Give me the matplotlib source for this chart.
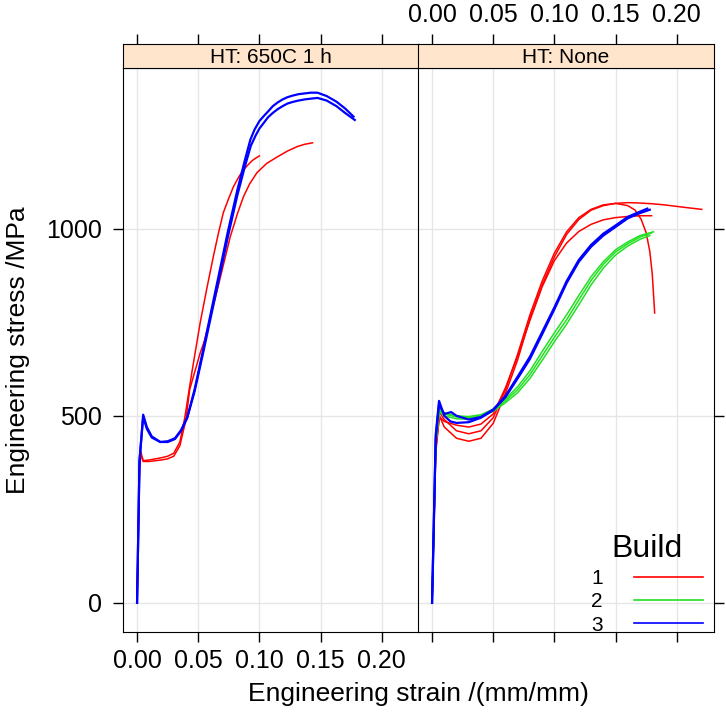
import numpy as np
import matplotlib
matplotlib.use("Agg")
import matplotlib.pyplot as plt
from matplotlib.lines import Line2D

plt.rcParams['font.family'] = ['Liberation Sans', 'DejaVu Sans']

panels = ["HT: 650C 1 h", "HT: None"]
builds = ["1", "2", "3"]
build_colors = {"1": "#FF0000", "2": "#22E022", "3": "#0000FF"}

x_ticks = [0.00, 0.05, 0.10, 0.15, 0.20]
y_ticks = [0, 500, 1000]

# --- HT: 650C 1 h ---
a_b1_x = [0, 0.002, 0.005, 0.008, 0.012, 0.019, 0.025, 0.031, 0.036, 0.041, 0.047, 0.054, 0.062, 0.068,
          0.074, 0.082, 0.088, 0.0926, 0.096, 0.100, 0.104, 0.1066, 0.111, 0.115, 0.119, 0.123, 0.127,
          0.132, 0.137, 0.142, 0.1475, 0.155, 0.163, 0.170, 0.177]
a_b1_y = [0, 380, 503, 470, 445, 430, 430, 438, 460, 495, 570, 676, 802, 895,
          989, 1104, 1182, 1238, 1265, 1288, 1303, 1312, 1328, 1338, 1346, 1352, 1356,
          1360, 1362, 1364, 1364, 1355, 1340, 1322, 1300]
a_b2_x = [0, 0.002, 0.005, 0.008, 0.012, 0.019, 0.025, 0.031, 0.036, 0.041, 0.047, 0.054, 0.062, 0.068,
          0.074, 0.082, 0.088, 0.093, 0.097, 0.100, 0.104, 0.107, 0.111, 0.115, 0.119, 0.123, 0.127,
          0.132, 0.137, 0.142, 0.1475, 0.155, 0.163, 0.170, 0.178]
a_b2_y = [0, 380, 498, 465, 442, 430, 432, 440, 462, 495, 565, 668, 790, 882,
          975, 1090, 1165, 1222, 1250, 1268, 1285, 1298, 1310, 1320, 1328, 1335, 1339,
          1343, 1346, 1348, 1350, 1343, 1328, 1310, 1291]
a_r1_x = [0, 0.002, 0.003, 0.005, 0.010, 0.015, 0.020, 0.025, 0.030, 0.035, 0.039, 0.045, 0.0516, 0.057,
          0.0623, 0.0665, 0.0705, 0.075, 0.0787, 0.083, 0.087, 0.091, 0.094, 0.097, 0.100]
a_r1_y = [0, 360, 405, 380, 382, 385, 388, 392, 400, 430, 495, 620, 749, 840,
          925, 988, 1043, 1082, 1112, 1138, 1158, 1172, 1182, 1189, 1195]
a_r2_x = [0, 0.002, 0.003, 0.005, 0.010, 0.015, 0.020, 0.025, 0.030, 0.035, 0.040, 0.043, 0.0516, 0.055,
          0.0656, 0.0762, 0.082, 0.087, 0.092, 0.098, 0.106, 0.115, 0.123, 0.131, 0.137, 0.1435]
a_r2_y = [0, 370, 395, 378, 378, 380, 382, 385, 392, 420, 490, 570, 668, 700,
          837, 979, 1040, 1086, 1120, 1150, 1175, 1193, 1208, 1220, 1226, 1230]

# --- HT: None ---
n_r1_x = [0, 0.003, 0.006, 0.010, 0.020, 0.030, 0.040, 0.050, 0.060, 0.070, 0.080, 0.090, 0.100, 0.110,
          0.120, 0.130, 0.140, 0.150, 0.160, 0.170, 0.180, 0.190, 0.200, 0.210, 0.2205]
n_r1_y = [0, 400, 500, 470, 440, 432, 440, 480, 560, 650, 760, 850, 925, 985,
          1025, 1050, 1062, 1068, 1070, 1069, 1067, 1064, 1060, 1056, 1052]
n_r2_x = [0, 0.003, 0.006, 0.010, 0.020, 0.030, 0.040, 0.050, 0.060, 0.070, 0.080, 0.090, 0.100, 0.110,
          0.120, 0.130, 0.140, 0.150, 0.160, 0.166, 0.171, 0.175, 0.178, 0.180, 0.182]
n_r2_y = [0, 420, 510, 490, 460, 452, 460, 495, 570, 665, 770, 860, 935, 992,
          1030, 1052, 1064, 1068, 1062, 1050, 1025, 990, 940, 880, 775]
n_r3_x = [0, 0.003, 0.006, 0.010, 0.020, 0.030, 0.040, 0.050, 0.060, 0.070, 0.080, 0.090, 0.100, 0.110,
          0.120, 0.130, 0.140, 0.150, 0.160, 0.170, 0.1795]
n_r3_y = [0, 410, 497, 485, 475, 470, 478, 505, 575, 660, 755, 845, 915, 962,
          993, 1012, 1024, 1030, 1033, 1035, 1035]
n_g1_x = [0, 0.003, 0.006, 0.010, 0.020, 0.030, 0.040, 0.050, 0.060, 0.070, 0.080, 0.090, 0.100, 0.110,
          0.120, 0.130, 0.140, 0.150, 0.160, 0.170, 0.1795]
n_g1_y = [0, 430, 515, 505, 497, 495, 500, 515, 540, 570, 610, 660, 710, 757,
          810, 862, 905, 938, 960, 978, 989]
n_g2_x = [0, 0.003, 0.006, 0.010, 0.020, 0.030, 0.040, 0.050, 0.060, 0.070, 0.080, 0.090, 0.100, 0.110,
          0.120, 0.130, 0.140, 0.150, 0.160, 0.170, 0.178]
n_g2_y = [0, 425, 510, 500, 492, 491, 497, 512, 535, 562, 600, 648, 698, 745,
          797, 850, 895, 930, 954, 972, 982]
n_g3_x = [0, 0.003, 0.006, 0.010, 0.020, 0.030, 0.040, 0.050, 0.060, 0.070, 0.080, 0.090, 0.100, 0.110,
          0.120, 0.130, 0.140, 0.150, 0.160, 0.170, 0.181]
n_g3_y = [0, 435, 518, 508, 500, 498, 503, 518, 545, 578, 620, 672, 722, 770,
          822, 872, 912, 944, 965, 982, 992]
n_b1_x = [0, 0.003, 0.0057, 0.010, 0.015, 0.020, 0.030, 0.040, 0.050, 0.060, 0.070, 0.080, 0.090, 0.100,
          0.110, 0.120, 0.130, 0.140, 0.150, 0.160, 0.170, 0.178]
n_b1_y = [0, 450, 540, 500, 485, 481, 483, 495, 515, 550, 600, 652, 718, 785,
          855, 912, 952, 982, 1005, 1028, 1042, 1051]
n_b2_x = [0, 0.003, 0.0057, 0.010, 0.0156, 0.020, 0.030, 0.040, 0.050, 0.060, 0.070, 0.080, 0.090, 0.100,
          0.110, 0.120, 0.130, 0.140, 0.150, 0.160, 0.170, 0.176]
n_b2_y = [0, 440, 530, 505, 510, 500, 490, 497, 517, 553, 605, 658, 724, 790,
          860, 917, 957, 987, 1009, 1032, 1046, 1054]

curves = {
    panels[0]: [("1", a_r1_x, a_r1_y), ("1", a_r2_x, a_r2_y),
                ("3", a_b1_x, a_b1_y), ("3", a_b2_x, a_b2_y)],
    panels[1]: [("1", n_r1_x, n_r1_y), ("1", n_r2_x, n_r2_y), ("1", n_r3_x, n_r3_y),
                ("2", n_g1_x, n_g1_y), ("2", n_g2_x, n_g2_y), ("2", n_g3_x, n_g3_y),
                ("3", n_b1_x, n_b1_y), ("3", n_b2_x, n_b2_y)],
}

W, H = 726, 718
fig = plt.figure(figsize=(W / 100, H / 100), dpi=100)

def fx(px):
    return px / W

def fy(py):
    return 1 - py / H

xlim = (-0.0115, 0.2305)
ylim = (-78, 1430)
lefts = [123, 418]
pw = 296
top, bot, strip_top = 68, 632, 44

for i, name in enumerate(panels):
    ax = fig.add_axes([fx(lefts[i]), fy(bot), pw / W, (bot - top) / H])
    st = fig.add_axes([fx(lefts[i]), fy(top), pw / W, (top - strip_top) / H], sharex=ax)

    for xv in x_ticks:
        ax.axvline(xv, color="#E6E6E6", lw=1, zorder=0)
    for yv in y_ticks:
        ax.axhline(yv, color="#E6E6E6", lw=1, zorder=0)

    for b, xs, ys in curves[name]:
        lw = 1.6 if b == "3" else 1.1
        ax.plot(xs, ys, color=build_colors[b], lw=lw, zorder=2)

    ax.set_xlim(*xlim)
    ax.set_ylim(*ylim)
    ax.set_xticks(x_ticks)
    ax.set_yticks(y_ticks)
    ax.tick_params(direction="out", length=7, width=1, labelsize=18, pad=5)
    ax.tick_params(axis="y", pad=8)

    st.set_facecolor("#FFE5CC")
    st.set_yticks([])
    st.text(0.5, 0.45, name, transform=st.transAxes, ha="center", va="center", fontsize=15)
    st.tick_params(axis="x", direction="out", length=7, width=1, labelsize=18, pad=5,
                   top=True, bottom=False, labelbottom=False)

    if i == 0:
        ax.tick_params(axis="x", labelbottom=True)
        st.tick_params(axis="x", labeltop=False)
        ax.yaxis.set_ticks_position("left")
        ax.set_xticklabels([f"{v:.2f}" for v in x_ticks])
    else:
        ax.tick_params(axis="x", labelbottom=False)
        st.tick_params(axis="x", labeltop=True)
        ax.yaxis.set_ticks_position("right")
        ax.tick_params(axis="y", labelright=False)
        st.xaxis.set_major_formatter(matplotlib.ticker.FormatStrFormatter("%.2f"))

        handles = [Line2D([0], [0], color=build_colors[b], lw=1.2) for b in builds]
        leg = ax.legend(handles, builds, title="Build", loc="lower right", bbox_to_anchor=(1.0, -0.025),
                        frameon=False, markerfirst=False, fontsize=15, title_fontsize=23,
                        handlelength=3.3, handletextpad=1.5, labelspacing=0.2, borderaxespad=0.15)
        leg._legend_box.sep = 4
        for t in leg.get_texts():
            t.set_ha("right")

fig.text(fx(418), fy(694), "Engineering strain /(mm/mm)", ha="center", va="center", fontsize=19)
fig.text(fx(18), fy(350), "Engineering stress /MPa", ha="center", va="center", rotation=90, fontsize=19)

fig.savefig("out.png", dpi=100)
